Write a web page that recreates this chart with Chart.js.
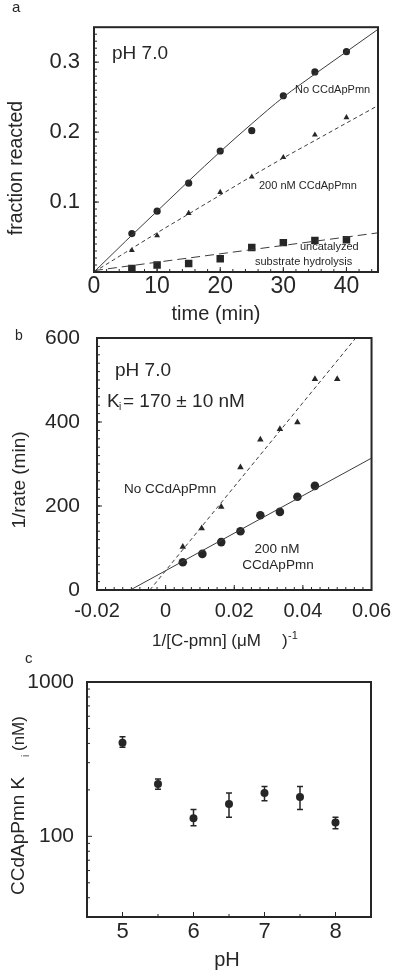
<!DOCTYPE html>
<html>
<head>
<meta charset="utf-8">
<script src="https://cdn.jsdelivr.net/npm/chart.js@4.4.1/dist/chart.umd.min.js"></script>
<style>
  html, body { margin: 0; padding: 0; background: #fff; }
  #wrap { position: relative; width: 400px; height: 976px; }
  canvas { position: absolute; left: 0; top: 0; }
</style>
</head>
<body>
<div id="wrap">
  <canvas id="panelA" width="400" height="976"></canvas>
  <canvas id="panelB" width="400" height="976"></canvas>
  <canvas id="panelC" width="400" height="976"></canvas>
</div>
<script>
// panel a: fraction reacted vs time
const timeMin = [6, 10, 15, 20, 25, 30, 35, 40];
const fracNoInhib = [0.055, 0.087, 0.127, 0.173, 0.202, 0.252, 0.286, 0.315];
const fracInhib = [0.031, 0.052, 0.084, 0.114, 0.136, 0.164, 0.196, 0.221];
const fracUncat = [0.005, 0.010, 0.012, 0.019, 0.035, 0.042, 0.045, 0.046];
const fitTime = [0, 5, 10, 15, 20, 25, 30, 35, 40, 45];
const fitNoInhib = [0, 0.044, 0.087, 0.130, 0.172, 0.212, 0.250, 0.283, 0.315, 0.347];
const fitInhib = [0, 0.028, 0.056, 0.083, 0.110, 0.137, 0.163, 0.188, 0.213, 0.238];
const fitUncatTime = [0, 45];
const fitUncat = [0.002, 0.056];
const aTimeTicks = [0, 10, 20, 30, 40];
const aFracTicks = [0.1, 0.2, 0.3];

// panel b: double reciprocal plot
const invConcNo = [0.005, 0.0105, 0.0162, 0.0218, 0.0276, 0.0333, 0.0384, 0.0435, 0.050];
const rateNo = [103, 147, 198, 292, 358, 383, 399, 502, 502];
const invConcInhib = [0.005, 0.0107, 0.0162, 0.0218, 0.0276, 0.0333, 0.0384, 0.0435];
const rateInhib = [66, 86, 114, 140, 178, 186, 222, 248];
const fitNoX = [-0.0046, 0.0554];
const fitNoY = [0, 600];
const fitInhibX = [-0.0103, 0.06];
const fitInhibY = [0, 314];
const bInvTicks = [-0.02, 0, 0.02, 0.04, 0.06];
const bRateTicks = [0, 200, 400, 600];

// panel c: Ki vs pH
const pHvals = [5, 5.5, 6, 6.5, 7, 7.5, 8];
const kiVals = [404, 218, 131, 162, 191, 180, 123];
const kiHigh = [441, 235, 149, 191, 210, 210, 133];
const kiLow = [378, 202, 117, 133, 170, 149, 112];
const cPhTicks = [5, 6, 7, 8];
const cKiTicks = [100, 1000];

const FONT = "'Liberation Sans', Arial, Helvetica, sans-serif";
const INK = '#262626';
const LINE = '#3c3c3c';

function pts(xs, ys) {
  return xs.map((x, i) => ({ x: x, y: ys[i] }));
}

function range(a, b, step) {
  const out = [];
  for (let v = a; v <= b + step / 1000; v += step) out.push(+v.toFixed(6));
  return out;
}

function text(ctx, t, x, y, size, align, rot) {
  ctx.save();
  ctx.font = size + 'px ' + FONT;
  ctx.fillStyle = INK;
  ctx.textAlign = align || 'left';
  ctx.textBaseline = 'alphabetic';
  ctx.translate(x, y);
  if (rot) ctx.rotate(rot);
  ctx.fillText(t, 0, 0);
  ctx.restore();
}

// frame, inward tick marks and free text
function decor(id, marks, notes) {
  return {
    id: id,
    afterDatasetsDraw(chart) {
      const ctx = chart.ctx;
      const { left, right, top, bottom } = chart.chartArea;
      const sx = chart.scales.x, sy = chart.scales.y;
      ctx.save();
      ctx.strokeStyle = INK;
      ctx.lineWidth = 1;
      ctx.beginPath();
      marks.xMajor.forEach(v => { const p = sx.getPixelForValue(v); ctx.moveTo(p, bottom); ctx.lineTo(p, bottom - 5); });
      marks.xMinor.forEach(v => { const p = sx.getPixelForValue(v); ctx.moveTo(p, bottom); ctx.lineTo(p, bottom - 3); });
      marks.yMajor.forEach(v => { const p = sy.getPixelForValue(v); ctx.moveTo(left, p); ctx.lineTo(left + 5, p); });
      marks.yMinor.forEach(v => { const p = sy.getPixelForValue(v); ctx.moveTo(left, p); ctx.lineTo(left + 3, p); });
      ctx.stroke();
      ctx.lineWidth = 2;
      ctx.strokeRect(left, top, right - left, bottom - top);
      ctx.restore();
      notes.forEach(n => text(ctx, n[0], n[1], n[2], n[3], n[4], n[5]));
    }
  };
}

function axis(min, max, tickVals, fit, pad, size, fmt, type) {
  return {
    type: type || 'linear',
    min: min,
    max: max,
    grid: { display: false, drawTicks: false },
    border: { display: false },
    afterBuildTicks: s => { s.ticks = tickVals.map(v => ({ value: v })); },
    afterFit: fit,
    ticks: {
      autoSkip: false,
      maxRotation: 0,
      padding: pad,
      color: INK,
      font: { family: FONT, size: size },
      callback: fmt || (v => String(v))
    }
  };
}

const baseOpts = {
  responsive: false,
  animation: false,
  events: [],
  plugins: { legend: { display: false }, tooltip: { enabled: false } }
};

// ---------- panel a ----------
new Chart(document.getElementById('panelA'), {
  type: 'scatter',
  data: {
    datasets: [
      { data: pts(fitTime, fitNoInhib), showLine: true, pointRadius: 0, borderColor: LINE, borderWidth: 1, tension: 0.4, cubicInterpolationMode: 'monotone' },
      { data: pts(fitTime, fitInhib), showLine: true, pointRadius: 0, borderColor: LINE, borderWidth: 1, borderDash: [4, 3], cubicInterpolationMode: 'monotone' },
      { data: pts(fitUncatTime, fitUncat), showLine: true, pointRadius: 0, borderColor: LINE, borderWidth: 1, borderDash: [9, 5] },
      { data: pts(timeMin, fracNoInhib), pointStyle: 'circle', pointRadius: 3.6, backgroundColor: INK, borderColor: INK, borderWidth: 0 },
      { data: pts(timeMin, fracInhib), pointStyle: 'triangle', pointRadius: 3.4, backgroundColor: INK, borderColor: INK, borderWidth: 0 },
      { data: pts(timeMin, fracUncat), pointStyle: 'rect', pointRadius: 5.3, backgroundColor: INK, borderColor: INK, borderWidth: 0 }
    ]
  },
  options: Object.assign({}, baseOpts, {
    layout: { padding: { left: 0, top: 19, right: 22, bottom: 656 } },
    scales: {
      x: axis(0, 45, aTimeTicks, s => { s.height = 48; }, 1, 23),
      y: axis(0, 0.35, aFracTicks, s => { s.width = 94; }, 14, 22, v => v.toFixed(1))
    }
  }),
  plugins: [decor('decorA',
    { xMajor: aTimeTicks, xMinor: range(2, 44, 2), yMajor: aFracTicks, yMinor: range(0.01, 0.34, 0.01) },
    [
      ['a', 12, 12, 15],
      ['pH 7.0', 112, 59, 19],
      ['No CCdApPmn', 295, 93, 11],
      ['200 nM CCdApPmn', 259, 189, 11],
      ['uncatalyzed', 300, 250, 11],
      ['substrate hydrolysis', 255, 265, 11],
      ['time (min)', 216, 320, 20, 'center'],
      ['fraction reacted', 22, 168, 19.5, 'center', -Math.PI / 2]
    ])]
});

// ---------- panel b ----------
new Chart(document.getElementById('panelB'), {
  type: 'scatter',
  data: {
    datasets: [
      { data: pts(fitNoX, fitNoY), showLine: true, pointRadius: 0, borderColor: LINE, borderWidth: 1, borderDash: [4, 3] },
      { data: pts(fitInhibX, fitInhibY), showLine: true, pointRadius: 0, borderColor: LINE, borderWidth: 1 },
      { data: pts(invConcNo, rateNo), pointStyle: 'triangle', pointRadius: 3.8, backgroundColor: INK, borderColor: INK, borderWidth: 0 },
      { data: pts(invConcInhib, rateInhib), pointStyle: 'circle', pointRadius: 4.3, backgroundColor: INK, borderColor: INK, borderWidth: 0 }
    ]
  },
  options: Object.assign({}, baseOpts, {
    layout: { padding: { left: 0, top: 338, right: 20, bottom: 346 } },
    scales: {
      x: axis(-0.02, 0.06, bInvTicks, s => { s.height = 40; }, 9, 20),
      y: axis(0, 600, bRateTicks, s => { s.width = 97; }, 17, 21)
    }
  }),
  plugins: [decor('decorB',
    { xMajor: bInvTicks, xMinor: range(-0.0175, 0.0575, 0.0025), yMajor: bRateTicks, yMinor: range(20, 580, 20) },
    [
      ['b', 15, 340, 14],
      ['pH 7.0', 115, 376, 19],
      ['K', 107, 407, 19],
      ['i', 119, 410, 10],
      ['= 170 \u00b1 10 nM', 123, 407, 19],
      ['No CCdApPmn', 124, 493, 13.5],
      ['200 nM', 277, 553, 13.5, 'center'],
      ['CCdApPmn', 278, 569, 13.5, 'center'],
      ['1/[C-pmn] (\u03bcM', 152, 646, 17],
      [')', 282, 646, 17],
      ['-1', 288, 639, 11],
      ['1/rate (min)', 25, 480, 19, 'center', -Math.PI / 2]
    ])]
});

// ---------- panel c ----------
const errorBars = {
  id: 'errorBars',
  beforeDatasetsDraw(chart) {
    const ctx = chart.ctx, sx = chart.scales.x, sy = chart.scales.y;
    ctx.save();
    ctx.strokeStyle = INK;
    ctx.lineWidth = 1.5;
    ctx.beginPath();
    pHvals.forEach((p, i) => {
      const x = sx.getPixelForValue(p);
      const hi = sy.getPixelForValue(kiHigh[i]);
      const lo = sy.getPixelForValue(kiLow[i]);
      ctx.moveTo(x, hi); ctx.lineTo(x, lo);
      ctx.moveTo(x - 3, hi); ctx.lineTo(x + 3, hi);
      ctx.moveTo(x - 3, lo); ctx.lineTo(x + 3, lo);
    });
    ctx.stroke();
    ctx.restore();
  }
};

new Chart(document.getElementById('panelC'), {
  type: 'scatter',
  data: {
    datasets: [
      { data: pts(pHvals, kiVals), pointStyle: 'circle', pointRadius: 4, backgroundColor: INK, borderColor: INK, borderWidth: 0 }
    ]
  },
  options: Object.assign({}, baseOpts, {
    layout: { padding: { left: 0, top: 682, right: 29, bottom: 29 } },
    scales: {
      x: axis(4.5, 8.5, cPhTicks, s => { s.height = 30; }, 2, 22),
      y: axis(30, 1000, cKiTicks, s => { s.width = 87; }, 13, 21, null, 'logarithmic')
    }
  }),
  plugins: [errorBars, decor('decorC',
    { xMajor: cPhTicks, xMinor: [5.5, 6.5, 7.5], yMajor: cKiTicks, yMinor: [40, 50, 60, 70, 80, 90, 200, 300, 400, 500, 600, 700, 800, 900] },
    [
      ['c', 25, 663, 15],
      ['pH', 227, 966, 20, 'center'],
      ['CCdApPmn K', 24, 895, 19, 'left', -Math.PI / 2],
      ['i', 29, 757, 10, 'left', -Math.PI / 2],
      ['(nM)', 24, 751, 17, 'left', -Math.PI / 2]
    ])]
});
</script>
</body>
</html>
